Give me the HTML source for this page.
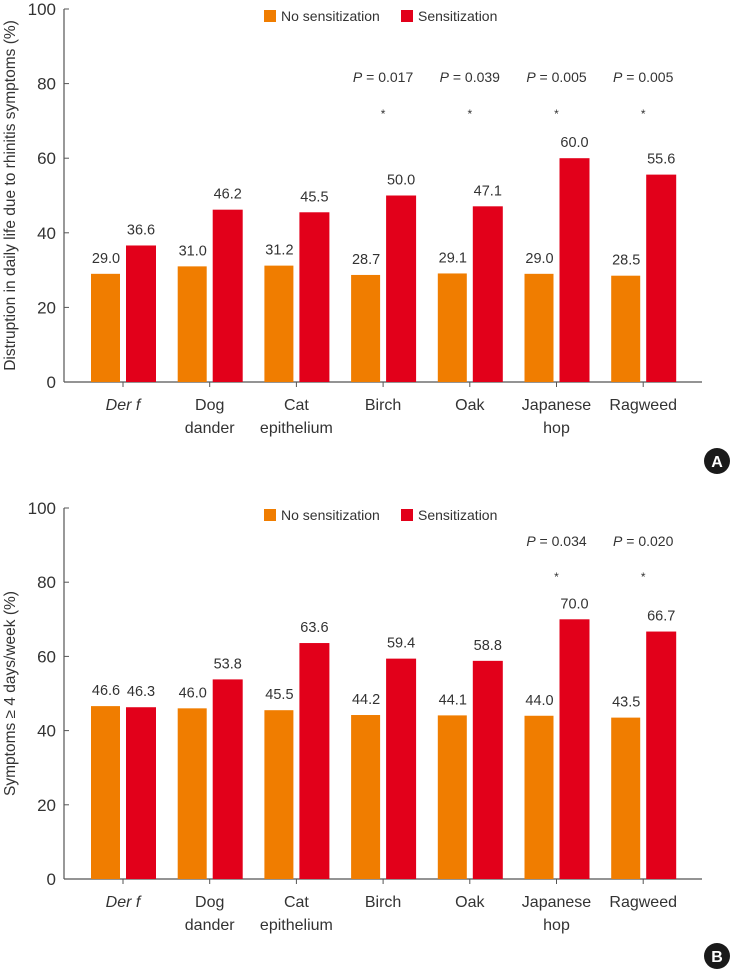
<!DOCTYPE html>
<html><head><meta charset="utf-8"><style>
body{margin:0;background:#fff;}
svg text{font-family:"Liberation Sans",sans-serif;fill:#333;}
</style></head><body>
<svg id="svg" width="740" height="971"></svg>
<script>
const categories=[["Der f"],["Dog","dander"],["Cat","epithelium"],["Birch"],["Oak"],["Japanese","hop"],["Ragweed"]];
const noSensA=[29.0,31.0,31.2,28.7,29.1,29.0,28.5];
const sensA=[36.6,46.2,45.5,50.0,47.1,60.0,55.6];
const pA=[null,null,null,"0.017","0.039","0.005","0.005"];
const noSensB=[46.6,46.0,45.5,44.2,44.1,44.0,43.5];
const sensB=[46.3,53.8,63.6,59.4,58.8,70.0,66.7];
const pB=[null,null,null,null,null,"0.034","0.020"];
const yTicks=[0,20,40,60,80,100];
const NS="http://www.w3.org/2000/svg";
const svg=document.getElementById('svg');
function el(tag,attrs,parent,txt){const e=document.createElementNS(NS,tag);for(const k in attrs)e.setAttribute(k,attrs[k]);if(txt!==undefined)e.textContent=txt;(parent||svg).appendChild(e);return e;}
function chart(id,y0,y100,noS,sen,pv,title,letter,badgeY,pY,starY){
  const g=el('g',{});
  
  
  const ax=64,axEnd=702;
  const y=v=>y0+(y100-y0)*v/100;
  const xc=i=>123+i*86.7;
  const ya=el('line',{x1:ax,y1:y(100),x2:ax,y2:y0,stroke:'#555','stroke-width':1.2},g);
  
  
  yTicks.forEach(t=>{
    el('line',{x1:ax,y1:y(t),x2:ax+5,y2:y(t),stroke:'#555'},g);
    const tl=el('text',{x:ax-8,y:y(t)+6,'text-anchor':'end','font-size':17},g,t);
    
    
  });
  const xa=el('line',{x1:ax,y1:y0,x2:axEnd,y2:y0,stroke:'#555','stroke-width':1.2},g);
  
  
  const yt=el('text',{transform:`translate(15,${(y0+y100)/2}) rotate(-90)`,'text-anchor':'middle','font-size':15.5},g,title);
  
  
  categories.forEach((c,i)=>{
    const cx=xc(i);
    el('line',{x1:cx,y1:y0,x2:cx,y2:y0+5,stroke:'#555'},g);
    c.forEach((ln,j)=>{
      const t=el('text',{x:cx,y:y0+28+j*23,'text-anchor':'middle','font-size':16,'font-style':i===0?'italic':'normal'},g,ln);
      
      
    });
    const b1=el('rect',{x:cx-32,y:y(noS[i]),width:29,height:y0-y(noS[i]),fill:'#f07d00'},g);
    
    
    const b2=el('rect',{x:cx+3,y:y(sen[i]),width:30,height:y0-y(sen[i]),fill:'#e2001a'},g);
    
    
    const l1=el('text',{x:cx-17,y:y(noS[i])-11,'text-anchor':'middle','font-size':14.5},g,noS[i].toFixed(1));
    
    
    const l2=el('text',{x:cx+18,y:y(sen[i])-11,'text-anchor':'middle','font-size':14.5},g,sen[i].toFixed(1));
    
    
    if(pv[i]){
      const pt=el('text',{x:cx,y:pY,'text-anchor':'middle','font-size':14},g);
      
      
      el('tspan',{'font-style':'italic'},pt,'P');
      el('tspan',{},pt,' = '+pv[i]);
      const st=el('text',{x:cx,y:starY,'text-anchor':'middle','font-size':12},g,'*');
      
      
    }
  });
  const lg=el('g',{},g);
  
  
  const ly=y100+8;
  el('rect',{x:264,y:ly-7,width:12,height:12,fill:'#f07d00'},lg);
  el('text',{x:281,y:ly+4,'font-size':14},lg,'No sensitization');
  el('rect',{x:401,y:ly-7,width:12,height:12,fill:'#e2001a'},lg);
  el('text',{x:418,y:ly+4,'font-size':14},lg,'Sensitization');
  const bg=el('g',{},g);
  
  
  el('circle',{cx:717,cy:badgeY,r:13,fill:'#1a1a1a'},bg);
  const bt=el('text',{x:717,y:badgeY+6,'text-anchor':'middle','font-size':16,'font-weight':'bold'},bg,letter);
  bt.style.fill='#fff';
}
chart('a',382,9,noSensA,sensA,pA,'Distruption in daily life due to rhinitis symptoms (%)','A',461,82,118);
chart('b',879,508,noSensB,sensB,pB,'Symptoms ≥ 4 days/week (%)','B',956,546,581);
</script>
</body></html>
